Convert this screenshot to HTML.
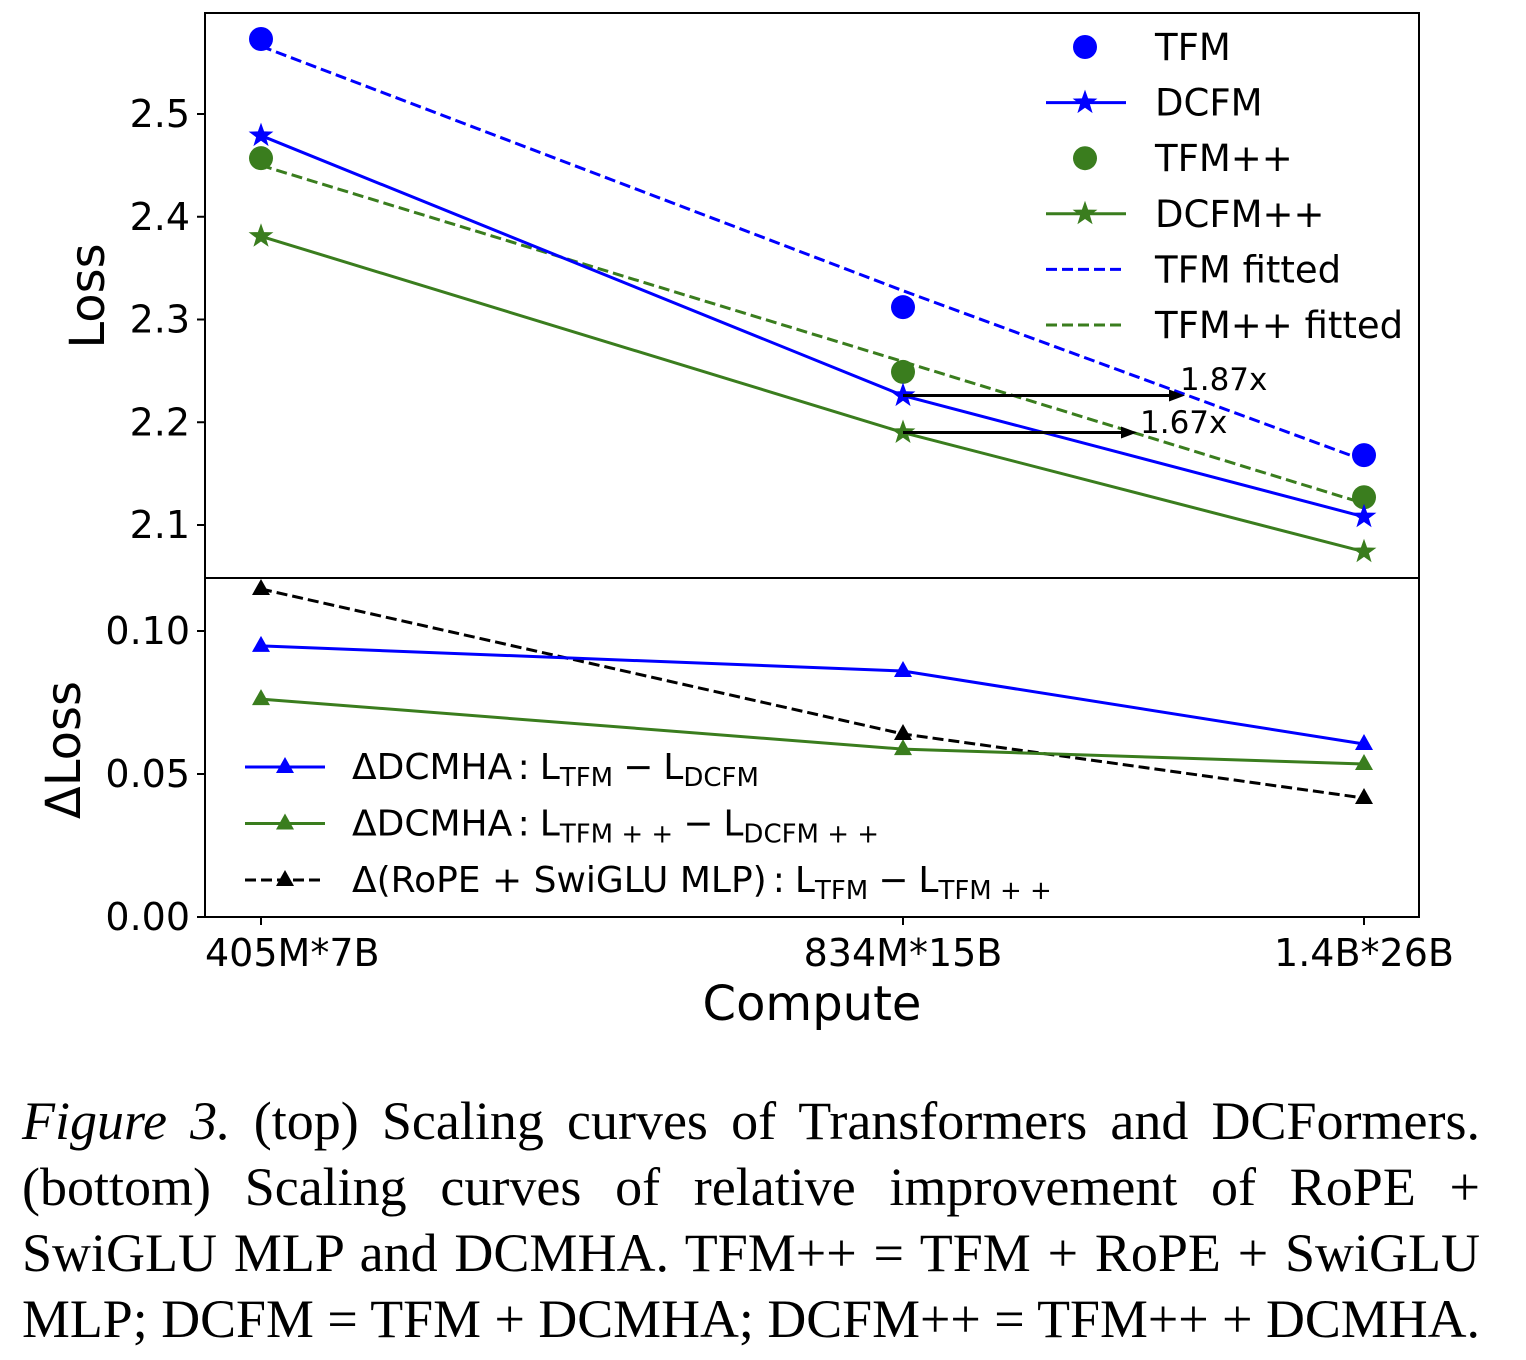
<!DOCTYPE html>
<html><head><meta charset="utf-8"><style>
body{margin:0;background:#fff;width:1526px;height:1360px;overflow:hidden}
svg text{font-family:"DejaVu Sans","Liberation Sans",sans-serif}
#cap{position:absolute;left:22px;top:1088px;width:1458px;font-family:"Liberation Serif",serif;font-size:54px;color:#000}
#cap div{white-space:nowrap;height:66px;line-height:66px}
</style></head><body>
<svg id="chart" width="1526" height="1060" style="position:absolute;left:0;top:0"></svg>
<div id="cap">
<div class="ln"><i>Figure 3.</i> (top) Scaling curves of Transformers and DCFormers.</div>
<div class="ln">(bottom) Scaling curves of relative improvement of RoPE +</div>
<div class="ln">SwiGLU MLP and DCMHA. TFM++ = TFM + RoPE + SwiGLU</div>
<div class="ln">MLP; DCFM = TFM + DCMHA; DCFM++ = TFM++ + DCMHA.</div>
</div>
<script>
const categories=["405M*7B","834M*15B","1.4B*26B"];
const tfm=[2.573,2.312,2.168];
const dcfm=[2.479,2.226,2.108];
const tfmpp=[2.457,2.249,2.127];
const dcfmpp=[2.381,2.190,2.074];
const tfmFit=[2.566,2.328,2.163];
const tfmppFit=[2.450,2.259,2.121];
const dBlue=[0.0948,0.0860,0.0605];
const dGreen=[0.0762,0.0587,0.0535];
const dBlack=[0.1147,0.0640,0.0416];
const topTicks=[2.1,2.2,2.3,2.4,2.5];
const botTicks=[0.00,0.05,0.10];
const svg=document.getElementById('chart');
const NS="http://www.w3.org/2000/svg";
const BLUE="#0000ff",GREEN="#3a7d1e";
const xPos=[261,903,1364];
function xs(i){return xPos[i];}
function yt(v){return 114+(2.5-v)*1027.5;}
function yb(v){return 917-v*2860;}
function el(t,a,txt){const e=document.createElementNS(NS,t);for(const k in a)e.setAttribute(k,a[k]);if(txt!==undefined)e.textContent=txt;svg.appendChild(e);return e;}
function star(cx,cy,r){let p=[];for(let i=0;i<10;i++){const a=-Math.PI/2+i*Math.PI/5,rr=i%2?r*0.4:r;p.push((cx+rr*Math.cos(a)).toFixed(1)+","+(cy+rr*Math.sin(a)).toFixed(1));}return p.join(" ");}
function tri(cx,cy,r){return `${cx},${cy-r} ${cx-r*0.9},${cy+r*0.6} ${cx+r*0.9},${cy+r*0.6}`;}
function line(vals,f,col,dash,name){const pts=vals.map((v,i)=>xs(i)+","+f(v)).join(" ");const e=el('polyline',{points:pts,fill:'none',stroke:col,'stroke-width':3,'stroke-dasharray':dash||''});

}
el('rect',{x:205,y:13,width:1214,height:565,fill:'none',stroke:'#000','stroke-width':2,});
el('rect',{x:205,y:578,width:1214,height:339,fill:'none',stroke:'#000','stroke-width':2,});
topTicks.forEach(t=>{const y=yt(t);el('line',{x1:197,x2:205,y1:y,y2:y,stroke:'#000','stroke-width':2});const e=el('text',{x:190,y:y+13,'font-size':38,'text-anchor':'end'},t.toFixed(1));});
botTicks.forEach(t=>{const y=yb(t);el('line',{x1:197,x2:205,y1:y,y2:y,stroke:'#000','stroke-width':2});const e=el('text',{x:190,y:y+13,'font-size':38,'text-anchor':'end'},t.toFixed(2));});
categories.forEach((c,i)=>{el('line',{x1:xs(i),x2:xs(i),y1:917,y2:925,stroke:'#000','stroke-width':2});const e=el('text',{x:xs(i),y:966,'font-size':38,'text-anchor':'middle'},c);
const bb=e.getBBox();if(bb.x<205){e.setAttribute('text-anchor','start');e.setAttribute('x',205);}});
el('text',{x:812,y:1020,'font-size':48,'text-anchor':'middle',},'Compute');
el('text',{x:0,y:0,'font-size':48,'text-anchor':'middle',transform:'translate(104,296) rotate(-90)',},'Loss');
el('text',{x:0,y:0,'font-size':48,'text-anchor':'middle',transform:'translate(80,750) rotate(-90)',},'ΔLoss');
line(tfmFit,yt,BLUE,'11 5','tfm-fitted-line');
line(tfmppFit,yt,GREEN,'11 5','tfmpp-fitted-line');
line(dcfm,yt,BLUE,'','dcfm-line');
line(dcfmpp,yt,GREEN,'','dcfmpp-line');
tfm.forEach((v,i)=>{const e=el('circle',{cx:xs(i),cy:yt(v),r:12,fill:BLUE});});
tfmpp.forEach((v,i)=>{const e=el('circle',{cx:xs(i),cy:yt(v),r:12,fill:GREEN});});
dcfm.forEach((v,i)=>{const e=el('polygon',{points:star(xs(i),yt(v),13),fill:BLUE});});
dcfmpp.forEach((v,i)=>{const e=el('polygon',{points:star(xs(i),yt(v),13),fill:GREEN});});
function arrow(y,x2,label,tx,ty,name){el('line',{x1:903,x2:x2-14,y1:y,y2:y,stroke:'#000','stroke-width':3,});el('polygon',{points:`${x2},${y} ${x2-16},${y-6} ${x2-16},${y+6}`,fill:'#000'});el('text',{x:tx,y:ty,'font-size':31,},label);}
arrow(yt(dcfm[1]),1185,'1.87x',1180,390,'arrow-187');
arrow(yt(dcfmpp[1]),1137,'1.67x',1140,433,'arrow-167');
const lg=[['TFM','c',BLUE],['DCFM','s',BLUE],['TFM++','c',GREEN],['DCFM++','s',GREEN],['TFM fitted','d',BLUE],['TFM++ fitted','d',GREEN]];
lg.forEach((l,i)=>{const y=47+i*55.6;
if(l[1]=='c')el('circle',{cx:1085,cy:y,r:12,fill:l[2]});
else{el('line',{x1:1046,x2:1126,y1:y,y2:y,stroke:l[2],'stroke-width':3,'stroke-dasharray':l[1]=='d'?'11 5':''});if(l[1]=='s')el('polygon',{points:star(1085,y,13),fill:l[2]});}
const e=el('text',{x:1155,y:y+13,'font-size':37},l[0]);});
line(dBlack,yb,'#000','11 5','delta-rope-line');
line(dBlue,yb,BLUE,'','delta-dcmha-line');
line(dGreen,yb,GREEN,'','delta-dcmhapp-line');
[[dBlue,BLUE],[dGreen,GREEN],[dBlack,'#000']].forEach(([a,c])=>a.forEach((v,i)=>{const e=el('polygon',{points:tri(xs(i),yb(v),10),fill:c});}));
const bl=[[BLUE,'','ΔDCMHA<tspan dx="6">:</tspan><tspan dx="10">L</tspan><tspan font-size="26" dy="7">TFM</tspan><tspan dy="-7" dx="10">−</tspan><tspan dx="10">L</tspan><tspan font-size="26" dy="7">DCFM</tspan>'],
[GREEN,'','ΔDCMHA<tspan dx="6">:</tspan><tspan dx="10">L</tspan><tspan font-size="26" dy="7">TFM + +</tspan><tspan dy="-7" dx="10">−</tspan><tspan dx="10">L</tspan><tspan font-size="26" dy="7">DCFM + +</tspan>'],
['#000','11 5','Δ(RoPE + SwiGLU MLP)<tspan dx="6">:</tspan><tspan dx="10">L</tspan><tspan font-size="26" dy="7">TFM</tspan><tspan dy="-7" dx="10">−</tspan><tspan dx="10">L</tspan><tspan font-size="26" dy="7">TFM + +</tspan>']];
bl.forEach((b,i)=>{const y=767+i*56.5;el('line',{x1:245,x2:325,y1:y,y2:y,stroke:b[0],'stroke-width':3,'stroke-dasharray':b[1]});el('polygon',{points:tri(285,y,10),fill:b[0]});const e=el('text',{x:352,y:y+12,'font-size':36});e.innerHTML=b[2];});
document.querySelectorAll('#cap .ln').forEach(d=>{
 d.style.display='inline-block';const w=d.getBoundingClientRect().width;
 const spaces=(d.textContent.trim().match(/ /g)||[]).length;
 if(w>1458){d.style.transform='scaleX('+(1458/w)+')';d.style.transformOrigin='0 0';}
 else if(spaces)d.style.wordSpacing=((1458-w)/spaces)+'px';
 d.style.display='block';
});
</script>
</body></html>
